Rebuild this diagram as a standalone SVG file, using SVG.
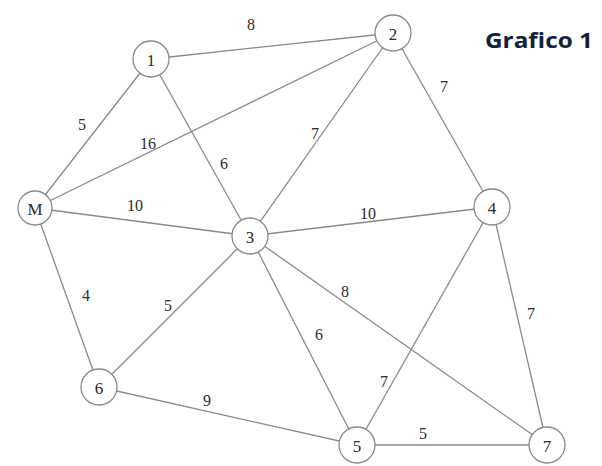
<svg xmlns="http://www.w3.org/2000/svg" width="602" height="466" viewBox="0 0 602 466">
  <style>
    .edge { stroke: #8a8a8a; stroke-width: 1.3; fill: none; }
    .node circle { fill: #ffffff; stroke: #8a8a8a; stroke-width: 1.3; }
    .node text { font-family: "Liberation Serif", "Times New Roman", serif; font-size: 17px; fill: #2a2a2a; text-anchor: middle; dominant-baseline: central; }
    .w { font-family: "Liberation Serif", "Times New Roman", serif; font-size: 16px; fill: #2a2a2a; text-anchor: middle; dominant-baseline: central; }
    .title { font-family: "Open Sans", "Liberation Sans", sans-serif; font-weight: bold; font-size: 22px; fill: #14213b; }
  </style>
  <rect width="602" height="466" fill="#ffffff"/>

  <g id="connectors">
    <line class="edge" x1="151" y1="59" x2="393" y2="33"/>
    <line class="edge" x1="35" y1="208" x2="151" y2="59"/>
    <line class="edge" x1="35" y1="208" x2="393" y2="33"/>
    <line class="edge" x1="151" y1="59" x2="250" y2="236"/>
    <line class="edge" x1="35" y1="208" x2="250" y2="236"/>
    <line class="edge" x1="393" y1="33" x2="250" y2="236"/>
    <line class="edge" x1="393" y1="33" x2="492" y2="207"/>
    <line class="edge" x1="250" y1="236" x2="492" y2="207"/>
    <line class="edge" x1="35" y1="208" x2="99" y2="387"/>
    <line class="edge" x1="250" y1="236" x2="99" y2="387"/>
    <line class="edge" x1="99" y1="387" x2="357" y2="445"/>
    <line class="edge" x1="250" y1="236" x2="357" y2="445"/>
    <line class="edge" x1="250" y1="236" x2="547" y2="445"/>
    <line class="edge" x1="492" y1="207" x2="357" y2="445"/>
    <line class="edge" x1="492" y1="207" x2="547" y2="445"/>
    <line class="edge" x1="357" y1="445" x2="547" y2="445"/>
  </g>

  <g id="weights">
    <text class="w" x="251" y="24">8</text>
    <text class="w" x="82" y="124">5</text>
    <text class="w" x="148" y="143">16</text>
    <text class="w" x="224" y="163">6</text>
    <text class="w" x="135" y="205">10</text>
    <text class="w" x="315" y="133">7</text>
    <text class="w" x="444" y="86">7</text>
    <text class="w" x="368" y="213">10</text>
    <text class="w" x="86" y="295">4</text>
    <text class="w" x="168" y="305">5</text>
    <text class="w" x="207" y="400">9</text>
    <text class="w" x="345" y="291">8</text>
    <text class="w" x="319" y="334">6</text>
    <text class="w" x="531" y="313">7</text>
    <text class="w" x="384" y="381">7</text>
    <text class="w" x="423" y="433">5</text>
  </g>

  <g id="node-1" class="node"><circle cx="151" cy="59" r="18"/><text x="151" y="60">1</text></g>
  <g id="node-2" class="node"><circle cx="393" cy="33" r="18"/><text x="393" y="34">2</text></g>
  <g id="node-M" class="node"><circle cx="35" cy="208" r="17"/><text x="35" y="209">M</text></g>
  <g id="node-3" class="node"><circle cx="250" cy="236" r="18"/><text x="250" y="237">3</text></g>
  <g id="node-4" class="node"><circle cx="492" cy="207" r="18"/><text x="492" y="208">4</text></g>
  <g id="node-6" class="node"><circle cx="99" cy="387" r="18"/><text x="99" y="388">6</text></g>
  <g id="node-5" class="node"><circle cx="357" cy="445" r="18"/><text x="357" y="446">5</text></g>
  <g id="node-7" class="node"><circle cx="547" cy="445" r="18"/><text x="547" y="446">7</text></g>

  <text class="title" x="485" y="48" textLength="108" lengthAdjust="spacingAndGlyphs">Grafico 1</text>
</svg>
